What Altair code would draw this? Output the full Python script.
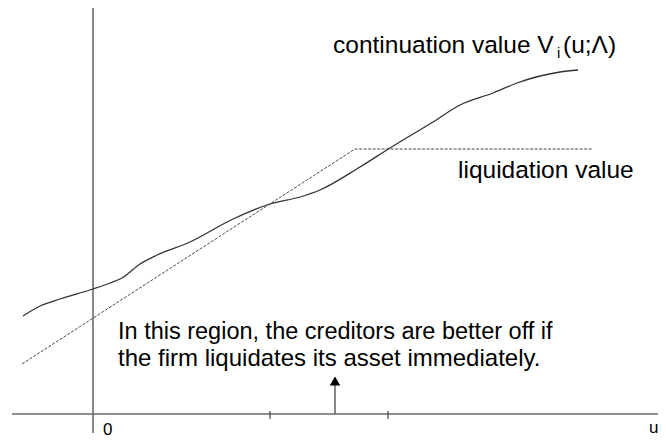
import altair as alt
import pandas as pd

# continuation value curve V_i(u; Lambda)
curve_u = [-70, -53, -33, 0, 17, 29, 47, 64, 97, 140, 177, 207, 227, 267, 297, 340, 367, 400, 424, 467, 485]
curve_v = [98, 108, 115, 125, 131, 136, 150, 159, 172, 195, 210, 217, 224, 247, 266, 292, 309, 321, 331, 342, 344]

# liquidation value (piecewise linear)
liq_u = [-71, 262, 500]
liq_v = [50, 265, 265]

# axis ticks on u axis
tick_u = [177, 295]
arrow_u = 242

FONT = "Liberation Sans"
XD = [-85, 565]
YD = [-24, 406]
xs = alt.Scale(domain=XD, nice=False, zero=False)
ys = alt.Scale(domain=YD, nice=False, zero=False)

def X(f="u"):
    return alt.X(f"{f}:Q", scale=xs, axis=None)

def Y(f="v"):
    return alt.Y(f"{f}:Q", scale=ys, axis=None)

curve_df = pd.DataFrame({"u": curve_u, "v": curve_v})
liq_df = pd.DataFrame({"u": liq_u, "v": liq_v})

axes_df = pd.DataFrame({
    "u": [-81, 0], "u2": [565, 0],
    "v": [0, -19], "v2": [0, 406],
})
ticks_df = pd.DataFrame({"u": tick_u, "v": [3, 3], "v2": [-5, -5]})
arrow_df = pd.DataFrame({"u": [arrow_u], "v": [0], "v2": [30]})
head_df = pd.DataFrame({"u": [arrow_u], "v": [33]})

axes = alt.Chart(axes_df).mark_rule(color="#6a6a6a", strokeWidth=1.6).encode(
    x=X(), x2="u2:Q", y=Y(), y2="v2:Q")
ticks = alt.Chart(ticks_df).mark_rule(color="#404040", strokeWidth=1.2).encode(
    x=X(), y=Y(), y2="v2:Q")
arrow = alt.Chart(arrow_df).mark_rule(color="#6a6a6a", strokeWidth=1.6).encode(
    x=X(), y=Y(), y2="v2:Q")
head = alt.Chart(head_df).mark_point(shape="triangle-up", filled=True, color="black",
                                     size=110, opacity=1).encode(x=X(), y=Y())

liq = alt.Chart(liq_df).mark_line(color="#4a4a4a", strokeWidth=1, strokeDash=[3, 1.5]).encode(
    x=X(), y=Y(), order=alt.Order("u:Q"))
curve = alt.Chart(curve_df).mark_line(color="#333333", strokeWidth=1.3, interpolate="monotone").encode(
    x=X(), y=Y(), order=alt.Order("u:Q"))

def label(text, u, v, size=24, color="black"):
    return alt.Chart(pd.DataFrame({"u": [u], "v": [v], "t": [text]})).mark_text(
        font=FONT, fontSize=size, align="left", baseline="alphabetic", color=color
    ).encode(x=X(), y=Y(), text="t:N")

texts = [
    label("continuation value V", 240, 361, size=24.5),
    label("i", 464, 356, size=15),
    label("(u;Λ)", 470, 361, size=24.5),
    label("liquidation value", 365, 236, size=24.5),
    label("In this region, the creditors are better off if", 25, 75, size=23.5),
    label("the firm liquidates its asset immediately.", 25, 48, size=24),
    label("0", 10, -21, size=17),
    label("u", 556, -19, size=17),
]

chart = alt.layer(axes, ticks, arrow, head, liq, curve, *texts).properties(
    width=650, height=430, padding=0,
    autosize=alt.AutoSizeParams(type="none"),
).configure_view(stroke=None)

chart.save("out.html", embed_options={"renderer": "svg", "actions": False})
